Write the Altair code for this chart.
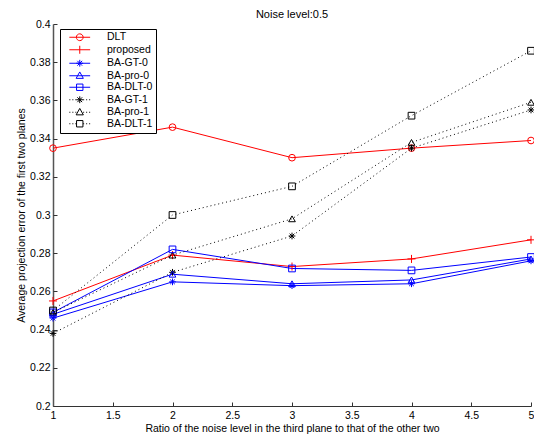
import altair as alt
import pandas as pd

ratios = [1, 2, 3, 4, 5]
series_names = ["DLT", "proposed", "BA-GT-0", "BA-pro-0", "BA-DLT-0", "BA-GT-1", "BA-pro-1", "BA-DLT-1"]
dlt = [0.335, 0.346, 0.330, 0.335, 0.339]
proposed = [0.255, 0.279, 0.273, 0.277, 0.287]
ba_gt_0 = [0.246, 0.265, 0.263, 0.264, 0.276]
ba_pro_0 = [0.248, 0.269, 0.264, 0.266, 0.277]
ba_dlt_0 = [0.249, 0.282, 0.272, 0.271, 0.278]
ba_gt_1 = [0.238, 0.270, 0.289, 0.335, 0.355]
ba_pro_1 = [0.249, 0.279, 0.298, 0.338, 0.359]
ba_dlt_1 = [0.250, 0.300, 0.315, 0.352, 0.386]
x_ticks = [1, 1.5, 2, 2.5, 3, 3.5, 4, 4.5, 5]
y_ticks = [0.2, 0.22, 0.24, 0.26, 0.28, 0.3, 0.32, 0.34, 0.36, 0.38, 0.4]

series_values = [dlt, proposed, ba_gt_0, ba_pro_0, ba_dlt_0, ba_gt_1, ba_pro_1, ba_dlt_1]
rows = []
for name, vals in zip(series_names, series_values):
    for xv, yv in zip(ratios, vals):
        rows.append({"series": name, "x": xv, "y": yv})
df = pd.DataFrame(rows)

# styles
colors = ["#ff0000", "#ff0000", "#0000ff", "#0000ff", "#0000ff", "#000000", "#000000", "#000000"]
markers = ["circle", "plus", "aster", "triangle", "square", "aster", "triangle", "square"]
dotted = [False, False, False, False, False, True, True, True]

marker_paths = {
    "circle": "circle",
    "plus": "M-1.2,0H1.2M0,-1.2V1.2",
    "aster": "M-1,0H1M0,-1V1M-0.7,-0.7L0.7,0.7M-0.7,0.7L0.7,-0.7",
    "triangle": "triangle-up",
    "square": "square",
}
legend_marker = {
    "circle": "M0.85,0A0.85,0.85 0 1,1 -0.85,0A0.85,0.85 0 1,1 0.85,0",
    "plus": "M0,-1V1",
    "aster": "M-0.85,0H0.85M0,-0.85V0.85M-0.6,-0.6L0.6,0.6M-0.6,0.6L0.6,-0.6",
    "triangle": "M0,-0.95L0.9,0.65H-0.9Z",
    "square": "M-0.8,-0.8H0.8V0.8H-0.8Z",
}
solid_seg = "M-2.6,0H2.6"
dot_seg = "M-2.6,0h0.25M-1.85,0h0.25M-1.1,0h0.25M0.85,0h0.25M1.6,0h0.25M2.35,0h0.25"
legend_paths = [legend_marker[m] + (dot_seg if d else solid_seg) for m, d in zip(markers, dotted)]

FONT = "Liberation Sans"
FS = 10.5
W, H = 478, 382

xscale = alt.Scale(domain=[1, 5], nice=False, zero=False)
yscale = alt.Scale(domain=[0.2, 0.4], nice=False, zero=False)
cscale = alt.Scale(domain=series_names, range=colors)

x_main = alt.Axis(values=x_ticks, format="~g", tickSize=0, labelPadding=4, grid=False,
                  title="Ratio of the noise level in the third plane to that of the other two",
                  titlePadding=3, labelFlush=False, domainColor="#333333")
y_main = alt.Axis(values=y_ticks, format="~g", tickSize=0, labelPadding=3, grid=False,
                  title="Average projection error of the first two planes",
                  titlePadding=3, domainColor="#555555", domainWidth=1.5)
x_ticks_axis = alt.Axis(orient="top", offset=-H, values=x_ticks, labels=False, domain=False,
                        tickSize=4, title=None, grid=False, tickColor="#333333")
y_ticks_axis = alt.Axis(orient="right", offset=-W, values=y_ticks, labels=False, domain=False,
                        tickSize=4, title=None, grid=False, tickColor="#333333")

legend_spec = alt.Legend(title=None, orient="none", legendX=7, legendY=5,
                         fillColor="white", strokeColor="black", padding=3,
                         labelFontSize=FS, labelFont=FONT, symbolSize=64,
                         symbolStrokeWidth=1, rowPadding=0.5, symbolOffset=11.5,
                         labelOffset=22)

legend_layer = alt.Chart(df).transform_filter(alt.datum.x < 0).mark_point(
    filled=False, size=64, strokeWidth=1, opacity=1
).encode(
    color=alt.Color("series:N", scale=cscale, legend=legend_spec),
    shape=alt.Shape("series:N", scale=alt.Scale(domain=series_names, range=legend_paths),
                    legend=legend_spec),
)

solid_members = [s for s, d in zip(series_names, dotted) if not d]
dotted_members = [s for s, d in zip(series_names, dotted) if d]

solid_lines = alt.Chart(df).transform_filter(
    alt.FieldOneOfPredicate(field="series", oneOf=solid_members)
).mark_line(strokeWidth=1).encode(
    x=alt.X("x:Q", scale=xscale, axis=x_main),
    y=alt.Y("y:Q", scale=yscale, axis=y_main),
    color=alt.Color("series:N", scale=cscale, legend=None),
    detail="series:N",
)

dotted_lines = alt.Chart(df).transform_filter(
    alt.FieldOneOfPredicate(field="series", oneOf=dotted_members)
).mark_line(strokeWidth=1, strokeDash=[1, 3]).encode(
    x=alt.X("x:Q", scale=xscale, axis=None),
    y=alt.Y("y:Q", scale=yscale, axis=None),
    color=alt.Color("series:N", scale=cscale, legend=None),
    detail="series:N",
)

point_layers = []
for i, kind in enumerate(["circle", "plus", "aster", "triangle", "square"]):
    members = [s for s, m in zip(series_names, markers) if m == kind]
    layer = alt.Chart(df).transform_filter(
        alt.FieldOneOfPredicate(field="series", oneOf=members)
    ).mark_point(shape=marker_paths[kind], filled=False, size=45, strokeWidth=1, opacity=1).encode(
        x=alt.X("x:Q", scale=xscale, axis=x_ticks_axis if i == 0 else None),
        y=alt.Y("y:Q", scale=yscale, axis=y_ticks_axis if i == 0 else None),
        color=alt.Color("series:N", scale=cscale, legend=None),
    )
    point_layers.append(layer)

chart = alt.layer(legend_layer, solid_lines, dotted_lines, *point_layers).resolve_axis(
    x="independent", y="independent"
).properties(
    width=W, height=H,
    title=alt.Title("Noise level:0.5", fontSize=11, fontWeight="normal", font=FONT, offset=1, dy=2),
    autosize=alt.AutoSizeParams(type="none"),
    padding={"left": 45, "top": 16, "right": 3, "bottom": 28},
).configure_axis(
    labelFont=FONT, titleFont=FONT, labelFontSize=FS, titleFontSize=FS,
    titleFontWeight="normal", labelColor="#000000", titleColor="#000000",
).configure_view(stroke=None)

chart.save("out.html", embed_options={"renderer": "svg", "actions": False})
